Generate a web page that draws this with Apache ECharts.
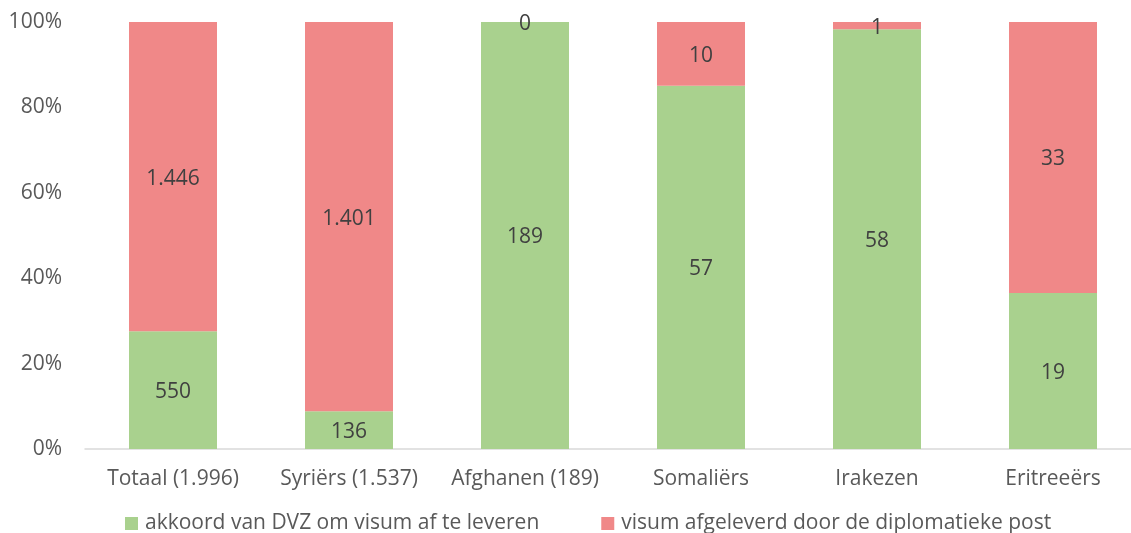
<!DOCTYPE html>
<html>
<head>
<meta charset="utf-8">
<script src="https://cdn.jsdelivr.net/npm/echarts@6/dist/echarts.min.js"></script>
<style>
  html, body { margin: 0; padding: 0; background: #fff; }
  #chart { width: 1131px; height: 533px; }
</style>
</head>
<body>
<div id="chart"></div>
<script>
// categories and absolute counts
const categories = ['Totaal (1.996)', 'Syriërs (1.537)', 'Afghanen (189)', 'Somaliërs', 'Irakezen', 'Eritreeërs'];
const akkoordDVZ = [550, 136, 189, 57, 58, 19];
const visumPost = [1446, 1401, 0, 10, 1, 33];
const seriesNames = ['akkoord van DVZ om visum af te leveren', 'visum afgeleverd door de diplomatieke post'];
const yTicks = [0, 20, 40, 60, 80, 100];

// 100% stacked: share of each category total
const totals = akkoordDVZ.map((v, i) => v + visumPost[i]);
const toShare = (arr) => arr.map((v, i) => ({ value: v / totals[i] * 100, count: v }));

const fmt = (n) => String(n).replace(/\B(?=(\d{3})+(?!\d))/g, '.');
const font = '"Open Sans", sans-serif';
const fs = 21;

const chart = echarts.init(document.getElementById('chart'));

const makeSeries = (name, arr, color) => ({
  name: name,
  type: 'bar',
  stack: 'total',
  data: toShare(arr),
  barWidth: 88,
  itemStyle: { color: color },
  label: {
    show: true,
    position: 'inside',
    offset: [0, 2],
    color: '#404040',
    fontSize: fs,
    fontFamily: font,
    formatter: (p) => fmt(p.data.count)
  }
});

chart.setOption({
  animation: false,
  grid: { left: 85, top: 22, width: 1056, bottom: 84, outerBoundsMode: 'none' },
  legend: {
    top: 508,
    left: 120,
    itemWidth: 13,
    itemHeight: 13,
    itemGap: 62,
    icon: 'rect',
    textStyle: { color: '#595959', fontSize: fs, fontFamily: font, padding: [0, 0, 0, 2] },
    data: seriesNames
  },
  xAxis: {
    type: 'category',
    data: categories,
    axisLine: { lineStyle: { color: '#d9d9d9', width: 1.5 } },
    axisTick: { show: false },
    axisLabel: { color: '#595959', fontSize: fs, fontFamily: font, margin: 20, interval: 0 }
  },
  yAxis: {
    type: 'value',
    min: 0,
    max: 100,
    interval: 20,
    axisLine: { show: false },
    axisTick: { show: false },
    splitLine: { show: false },
    axisLabel: {
      color: '#595959',
      fontSize: fs,
      fontFamily: font,
      margin: 23,
      formatter: (v) => (yTicks.indexOf(v) >= 0 ? v + '%' : '')
    }
  },
  series: [
    makeSeries(seriesNames[0], akkoordDVZ, '#a9d18e'),
    makeSeries(seriesNames[1], visumPost, '#f08888')
  ]
});
</script>
</body>
</html>
